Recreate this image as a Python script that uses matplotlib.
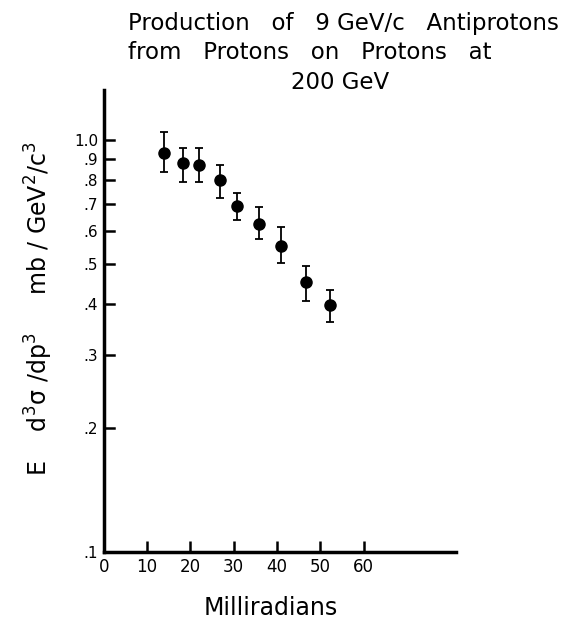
import matplotlib
matplotlib.use("Agg")
import matplotlib.pyplot as plt
import numpy as np

# angle (mrad) and invariant cross section
angle = [13.9, 18.3, 21.9, 26.8, 30.7, 35.9, 41.0, 46.7, 52.2]
xsec = [0.93, 0.88, 0.87, 0.80, 0.69, 0.625, 0.553, 0.452, 0.398]
err_hi = [1.045, 0.956, 0.956, 0.866, 0.741, 0.685, 0.615, 0.495, 0.432]
err_lo = [0.833, 0.788, 0.789, 0.724, 0.637, 0.574, 0.503, 0.406, 0.362]

x_ticks = [0, 10, 20, 30, 40, 50, 60]
y_ticks = [0.1, 0.2, 0.3, 0.4, 0.5, 0.6, 0.7, 0.8, 0.9, 1.0]
y_labels = [".1", ".2", ".3", ".4", ".5", ".6", ".7", ".8", ".9", "1.0"]

plt.rcParams['font.family'] = ['DejaVu Sans']
plt.rcParams['mathtext.fontset'] = 'dejavusans'

fig = plt.figure(figsize=(5.87, 6.29), dpi=100)
ax = fig.add_axes([0.177, 0.1224, 0.600, 0.7345])

yerr = [np.array(xsec) - np.array(err_lo), np.array(err_hi) - np.array(xsec)]
ax.errorbar(angle, xsec, yerr=yerr, fmt='o', color='black', markersize=8,
            elinewidth=1.3, capsize=2.8, capthick=1.3)

ax.set_yscale('log')
ax.set_xlim(0, 81.4)
ax.set_ylim(0.1, 1.32)

ax.set_xticks(x_ticks)
ax.set_xticklabels([str(v) for v in x_ticks], fontsize=12)
ax.set_yticks(y_ticks)
ax.set_yticklabels(y_labels, fontsize=11)
ax.yaxis.set_minor_locator(matplotlib.ticker.NullLocator())

ax.tick_params(axis='both', direction='in', length=8, width=1.8, pad=4)
ax.tick_params(axis='y', direction='out', length=0)
# y ticks drawn inward from the axis line
for y in y_ticks[1:]:
    ax.plot([0, 2.3], [y, y], color='black', lw=1.8, clip_on=False)

for side in ['top', 'right']:
    ax.spines[side].set_visible(False)
for side in ['left', 'bottom']:
    ax.spines[side].set_linewidth(2.5)

fig.text(0.218, 0.963, "Production   of   9 GeV/c   Antiprotons", ha='left',
         va='center', fontsize=16.5)
fig.text(0.218, 0.916, "from   Protons   on   Protons   at", ha='left',
         va='center', fontsize=16.5)
fig.text(0.579, 0.869, "200 GeV", ha='center', va='center', fontsize=16.5)

fig.text(0.066, 0.51,
         r"E    $\mathrm{d^3\sigma\ /dp^3}$     mb / GeV$^2$/c$^3$",
         rotation=90, ha='center', va='center', fontsize=17)
fig.text(0.462, 0.033, "Milliradians", ha='center', va='center', fontsize=17)

plt.savefig("out.png", dpi=100)
